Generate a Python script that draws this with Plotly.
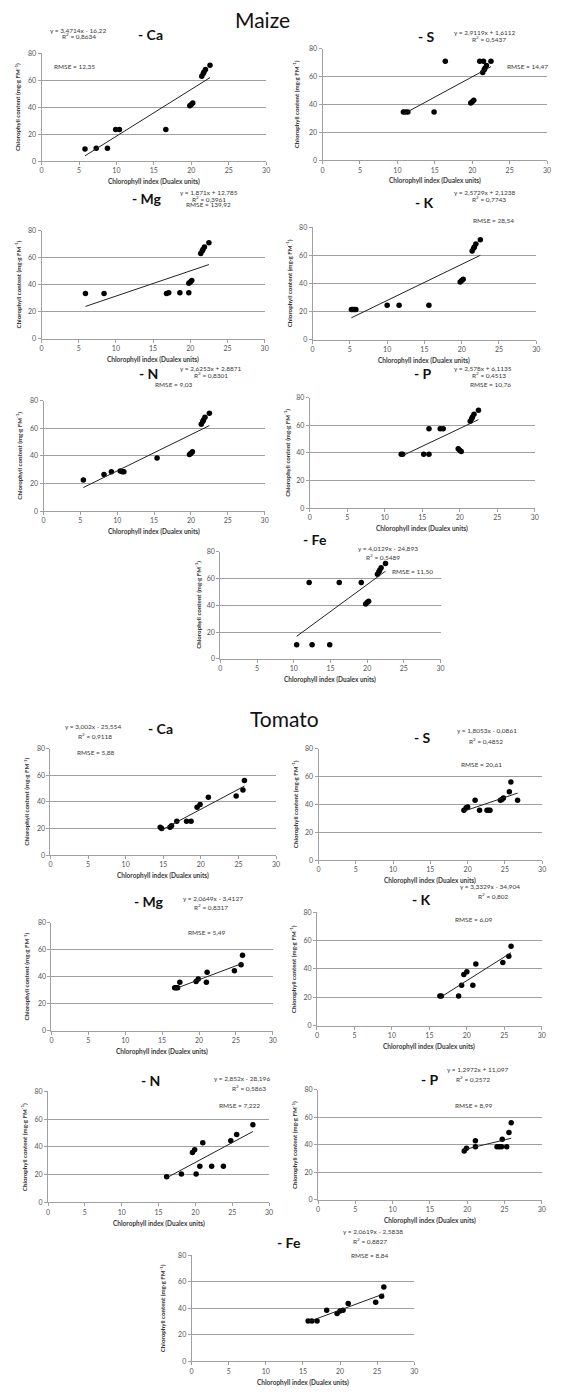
import plotly.graph_objects as go

W, H = 561, 1392

# ---------------- data ----------------
panel_names = ["- Ca", "- S", "- Mg", "- K", "- N", "- P", "- Fe"]

maize_ca_x = [5.8, 7.3, 8.8, 9.9, 10.4, 16.6, 19.8, 20.0, 20.2, 21.4, 21.6, 21.7, 21.9, 22.5]
maize_ca_y = [9, 9.5, 9.5, 23.5, 23.5, 23.5, 41, 42, 43, 63, 65, 66, 68, 71]
maize_s_x = [10.8, 11.1, 11.4, 14.9, 16.4, 19.8, 20.0, 20.2, 21.0, 21.5, 21.4, 21.6, 21.7, 21.9, 22.5]
maize_s_y = [34.5, 34.5, 34.5, 34.5, 71, 41, 42, 43, 71, 71, 63, 65, 66, 68, 71]
maize_mg_x = [5.9, 8.4, 16.8, 17.1, 18.6, 19.8, 19.8, 20.0, 20.2, 21.4, 21.6, 21.7, 21.9, 22.5]
maize_mg_y = [33.5, 33.5, 33.5, 34, 34, 34, 41, 42, 43, 63, 65, 66, 68, 71]
maize_k_x = [5.2, 5.4, 5.6, 5.8, 10.0, 11.6, 15.6, 19.8, 20.0, 20.2, 21.4, 21.6, 21.7, 21.9, 22.5]
maize_k_y = [21.5, 21.5, 21.5, 21.5, 24.5, 24.5, 24.5, 41, 42, 43, 63, 65, 66, 68, 71]
maize_n_x = [5.4, 8.2, 9.2, 10.4, 10.7, 10.9, 15.4, 19.8, 20.0, 20.2, 21.4, 21.6, 21.7, 21.9, 22.5]
maize_n_y = [22.5, 26.5, 28.5, 29, 28.5, 28.5, 38.5, 41, 42, 43, 63, 65, 66, 68, 71]
maize_p_x = [12.2, 12.4, 15.2, 15.9, 15.9, 17.4, 17.8, 19.8, 20.0, 20.2, 21.4, 21.6, 21.7, 21.9, 22.5]
maize_p_y = [39, 39, 39, 39, 57.5, 57.5, 57.5, 43, 42, 41, 63, 65, 66, 68, 71]
maize_fe_x = [10.4, 12.5, 14.9, 12.1, 16.2, 19.2, 19.8, 20.0, 20.2, 21.4, 21.6, 21.7, 21.9, 22.5]
maize_fe_y = [10.5, 10.5, 10.5, 57, 57, 57, 41, 42, 43, 63, 65, 66, 68, 71]

maize_slopes = [3.4714, 2.9119, 1.871, 2.5729, 2.6253, 2.578, 4.0129]
maize_intercepts = [-16.22, 1.6112, 12.785, 2.1238, 2.8871, 6.1135, -24.893]
maize_eq = ["y = 3,4714x - 16,22", "y = 2,9119x + 1,6112", "y = 1,871x + 12,785",
            "y = 2,5729x + 2,1238", "y = 2,6253x + 2,8871", "y = 2,578x + 6,1135",
            "y = 4,0129x - 24,893"]
maize_r2 = ["0,8634", "0,5437", "0,3961", "0,7743", "0,8301", "0,4513", "0,5489"]
maize_rmse = ["12,35", "14,47", "139,92", "28,54", "9,03", "10,76", "11,50"]

tomato_ca_x = [14.6, 14.8, 15.9, 16.1, 16.8, 18.1, 18.7, 19.5, 19.9, 21.0, 24.7, 25.6, 25.8]
tomato_ca_y = [21, 20, 21, 22, 25.5, 25.5, 25.5, 36, 38, 43.5, 44.5, 49, 56]
tomato_s_x = [19.5, 19.8, 20.0, 21.0, 21.6, 22.6, 22.8, 23.0, 24.4, 24.6, 24.8, 25.6, 25.8, 26.7]
tomato_s_y = [35.8, 37.5, 38.2, 43, 35.8, 35.8, 35.8, 35.8, 43, 43.5, 44.5, 49, 56, 43]
tomato_mg_x = [16.7, 16.9, 17.1, 17.4, 19.6, 19.9, 21.0, 21.1, 24.8, 25.7, 25.9]
tomato_mg_y = [32, 32, 32, 36, 36.5, 38.5, 36, 43.5, 44.5, 49, 56]
tomato_k_x = [16.4, 16.6, 18.9, 19.3, 19.6, 20.0, 20.8, 21.2, 24.8, 25.6, 25.9]
tomato_k_y = [21, 21, 21, 28.5, 36, 38, 28.5, 43.5, 44.5, 49, 56]
tomato_n_x = [16.1, 18.1, 19.6, 19.9, 20.1, 20.6, 21.0, 22.2, 23.8, 24.8, 25.6, 27.8]
tomato_n_y = [18.5, 20.5, 36, 38, 20.5, 26, 43, 26, 26, 44.5, 49, 56]
tomato_p_x = [19.6, 19.9, 21.1, 21.1, 24.0, 24.3, 24.6, 24.7, 25.3, 25.6, 25.9]
tomato_p_y = [35.5, 37.5, 38.5, 43, 38.5, 38.5, 38.5, 44, 38.5, 49, 56]
tomato_fe_x = [15.7, 16.2, 16.9, 18.2, 19.6, 20.0, 20.4, 21.1, 24.8, 25.6, 25.9]
tomato_fe_y = [30.5, 30.5, 30.5, 38.5, 36, 38, 38.5, 43.5, 44.5, 49, 56]

tomato_slopes = [3.002, 1.8053, 2.0649, 3.3329, 2.852, 1.2972, 2.0619]
tomato_intercepts = [-25.554, -0.0861, -3.4127, -34.904, -28.196, 11.097, -2.5838]
tomato_eq = ["y = 3,002x - 25,554", "y = 1,8053x - 0,0861", "y = 2,0649x - 3,4127",
             "y = 3,3329x - 34,904", "y = 2,852x - 28,196", "y = 1,2972x + 11,097",
             "y = 2,0619x - 2,5838"]
tomato_r2 = ["0,9118", "0,4852", "0,8317", "0,802", "0,5863", "0,2572", "0,8827"]
tomato_rmse = ["5,88", "20,61", "5,49", "6,09", "7,222", "8,99", "8,84"]

x_ticks = [0, 5, 10, 15, 20, 25, 30]
y_ticks = [0, 20, 40, 60, 80]
x_title = "Chlorophyll index (Dualex units)"
y_title = "Chlorophyll content (mg·g FM<sup>-1</sup>)"

maize_x = [maize_ca_x, maize_s_x, maize_mg_x, maize_k_x, maize_n_x, maize_p_x, maize_fe_x]
maize_y = [maize_ca_y, maize_s_y, maize_mg_y, maize_k_y, maize_n_y, maize_p_y, maize_fe_y]
tomato_x = [tomato_ca_x, tomato_s_x, tomato_mg_x, tomato_k_x, tomato_n_x, tomato_p_x, tomato_fe_x]
tomato_y = [tomato_ca_y, tomato_s_y, tomato_mg_y, tomato_k_y, tomato_n_y, tomato_p_y, tomato_fe_y]

# ---------------- layout geometry (pixels) ----------------
geo = [
    # maize
    dict(box=(40, 267, 48.5, 157), t=(150, 30), eq=(77, 25.5), r2=(78, 31.5), rm=(73, 62, "center"), yo=24),
    dict(box=(324, 551, 44, 156), t=(429, 32), eq=(488, 27.5), r2=(492, 34), rm=(508, 62, "left"), yo=26),
    dict(box=(40, 265.5, 227, 335.5), t=(147, 195), eq=(209, 189), r2=(209, 195), rm=(209, 201, "center"), yo=24),
    dict(box=(314, 540, 223.5, 336.5), t=(427.5, 199), eq=(488, 188.5), r2=(492, 195), rm=(497, 217, "center"), yo=23),
    dict(box=(42, 265.5, 398, 509), t=(148.5, 371), eq=(211, 366), r2=(211, 372.5), rm=(173.5, 382, "center"), yo=25),
    dict(box=(311, 538.5, 395, 506), t=(425.7, 371), eq=(486.6, 366), r2=(492, 372.5), rm=(493.7, 382, "center"), yo=23),
    dict(box=(220.7, 443.3, 549.7, 657.7), t=(316.7, 537.5), eq=(390, 546.3), r2=(385, 555), rm=(415, 570, "center"), yo=22),
    # tomato
    dict(box=(49, 277, 748, 855), t=(160, 727.5), eq=(91.7, 725.5), r2=(94, 735), rm=(95, 751.7, "center"), yo=24),
    dict(box=(320, 546, 748, 860), t=(425, 736.5), eq=(490, 730), r2=(489, 740), rm=(485, 764.3, "center"), yo=23),
    dict(box=(50, 273.7, 923.3, 1031.7), t=(148.5, 902), eq=(213, 899), r2=(211, 907), rm=(207.5, 933, "center"), yo=25),
    dict(box=(318.4, 545.6, 912.3, 1026.7), t=(424, 900), eq=(493.7, 887), r2=(497, 896.5), rm=(477.6, 920, "center"), yo=24),
    dict(box=(46.5, 270, 1092.7, 1204.3), t=(150, 1082), eq=(243, 1080), r2=(250, 1089), rm=(240, 1106.5, "center"), yo=24),
    dict(box=(319.5, 545.6, 1091, 1201.7), t=(433, 1081), eq=(481, 1071), r2=(476, 1080), rm=(477.6, 1106.5, "center"), yo=24),
    dict(box=(191.7, 416.7, 1257.3, 1364.3), t=(290, 1245), eq=(375, 1233.3), r2=(371.7, 1243.3), rm=(371.7, 1257.7, "center"), yo=29),
]


def fx(px):
    return px / W


def fy(py):
    return 1 - py / H


FONT = "Lato, 'Open Sans', sans-serif"
GRID = "#a0a0a0"
TXT = "#3a3a3a"

fig = go.Figure()
annotations = []
layout_axes = {}

all_x = maize_x + tomato_x
all_y = maize_y + tomato_y
all_slopes = maize_slopes + tomato_slopes
all_int = maize_intercepts + tomato_intercepts
all_eq = maize_eq + tomato_eq
all_r2 = maize_r2 + tomato_r2
all_rm = maize_rmse + tomato_rmse

for i in range(14):
    g = geo[i]
    n = i + 1
    xa = "x" if n == 1 else f"x{n}"
    ya = "y" if n == 1 else f"y{n}"
    xs, ys = all_x[i], all_y[i]
    x0, x1, yt, yb = g["box"]

    fig.add_trace(go.Scatter(
        x=xs, y=ys, mode="markers", xaxis=xa, yaxis=ya,
        marker=dict(color="black", size=5.5), showlegend=False, cliponaxis=False))
    lx = [min(xs), max(xs)]
    ly = [all_slopes[i] * v + all_int[i] for v in lx]
    fig.add_trace(go.Scatter(
        x=lx, y=ly, mode="lines", xaxis=xa, yaxis=ya,
        line=dict(color="#222222", width=1), showlegend=False))

    xkey = "xaxis" if n == 1 else f"xaxis{n}"
    ykey = "yaxis" if n == 1 else f"yaxis{n}"
    layout_axes[xkey] = dict(
        domain=[fx(x0), fx(x1)], anchor=ya, range=[0, 30], tickvals=x_ticks,
        showgrid=False, zeroline=False, showline=True, linecolor=GRID, linewidth=1,
        ticks="outside", ticklen=3, tickcolor=GRID,
        tickfont=dict(size=7, color="#555555", family=FONT), fixedrange=True)
    layout_axes[ykey] = dict(
        domain=[fy(yb), fy(yt)], anchor=xa, range=[0, 80], tickvals=y_ticks,
        showgrid=True, gridcolor=GRID, gridwidth=1, zeroline=False,
        showline=True, linecolor=GRID, linewidth=1,
        ticks="outside", ticklen=3, tickcolor=GRID,
        tickfont=dict(size=7, color="#555555", family=FONT), fixedrange=True)

    annotations.append(dict(x=fx(g["t"][0]), y=fy(g["t"][1]), xref="paper", yref="paper",
                            text=f"<b>{panel_names[i % 7]}</b>", showarrow=False,
                            xanchor="center", yanchor="middle",
                            font=dict(size=14, color="#111111", family=FONT)))
    annotations.append(dict(x=fx(g["eq"][0]), y=fy(g["eq"][1]), xref="paper", yref="paper",
                            text=all_eq[i], showarrow=False, xanchor="center", yanchor="middle",
                            font=dict(size=6.5, color=TXT, family=FONT)))
    annotations.append(dict(x=fx(g["r2"][0]), y=fy(g["r2"][1]), xref="paper", yref="paper",
                            text=f"R<sup>2</sup> = {all_r2[i]}", showarrow=False,
                            xanchor="center", yanchor="middle",
                            font=dict(size=6.5, color=TXT, family=FONT)))
    rx, ry, ranc = g["rm"]
    annotations.append(dict(x=fx(rx), y=fy(ry), xref="paper", yref="paper",
                            text=f"RMSE = {all_rm[i]}", showarrow=False,
                            xanchor=ranc, yanchor="middle",
                            font=dict(size=6.5, color=TXT, family=FONT)))
    annotations.append(dict(x=fx((x0 + x1) / 2), y=fy(yb + 21), xref="paper", yref="paper",
                            text=f"<b>{x_title}</b>", showarrow=False,
                            xanchor="center", yanchor="middle",
                            font=dict(size=6.5, color=TXT, family=FONT)))
    annotations.append(dict(x=fx(x0 - g["yo"]), y=fy((yt + yb) / 2), xref="paper", yref="paper",
                            text=f"<b>{y_title}</b>", showarrow=False, textangle=-90,
                            xanchor="center", yanchor="middle",
                            font=dict(size=6.2, color=TXT, family=FONT)))

annotations.append(dict(x=fx(263), y=fy(15), xref="paper", yref="paper", text="Maize",
                        showarrow=False, xanchor="center", yanchor="middle",
                        font=dict(size=21, color="#111111", family=FONT)))
annotations.append(dict(x=fx(286), y=fy(718), xref="paper", yref="paper", text="Tomato",
                        showarrow=False, xanchor="center", yanchor="middle",
                        font=dict(size=21, color="#111111", family=FONT)))

fig.update_layout(
    width=W, height=H, margin=dict(l=0, r=0, t=0, b=0),
    paper_bgcolor="white", plot_bgcolor="white",
    annotations=annotations, showlegend=False,
    font=dict(family=FONT),
    **layout_axes)

fig.write_html("out.html", config={"displayModeBar": False})
